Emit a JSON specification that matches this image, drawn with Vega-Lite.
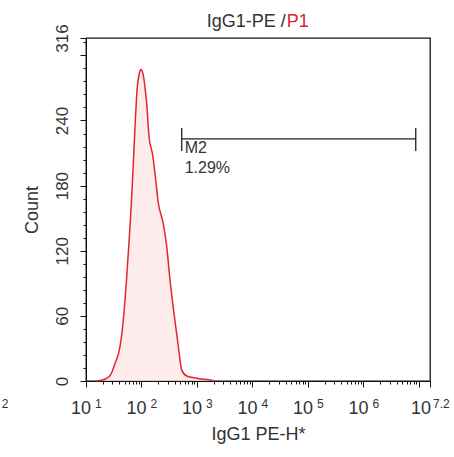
{
  "$schema": "https://vega.github.io/schema/vega-lite/v6.json",
  "autosize": "none",
  "width": 344,
  "height": 343,
  "padding": {"left": 86, "top": 38, "right": 24, "bottom": 76},
  "background": "white",
  "config": {
    "font": "Liberation Sans",
    "view": {"stroke": "#111111", "strokeWidth": 1.3},
    "axis": {"grid": false, "domainColor": "#111111", "tickColor": "#111111", "labelColor": "#333333", "titleColor": "#333333", "titleFontWeight": "normal", "labelOverlap": false}
  },
  "datasets": {
    "hist": [
      {"x": 15.6, "count": 0},
      {"x": 23.6, "count": 2.5},
      {"x": 28, "count": 6},
      {"x": 33.3, "count": 16},
      {"x": 41, "count": 31.6},
      {"x": 47, "count": 56},
      {"x": 54.2, "count": 96},
      {"x": 62.1, "count": 142},
      {"x": 69.5, "count": 188},
      {"x": 76.4, "count": 234},
      {"x": 84.1, "count": 271},
      {"x": 91.4, "count": 283.5},
      {"x": 98, "count": 287},
      {"x": 104, "count": 285},
      {"x": 111, "count": 278},
      {"x": 117, "count": 268},
      {"x": 124, "count": 256},
      {"x": 136.7, "count": 225},
      {"x": 159.3, "count": 208},
      {"x": 175.3, "count": 191},
      {"x": 201, "count": 164},
      {"x": 247, "count": 145},
      {"x": 285, "count": 124},
      {"x": 327, "count": 93},
      {"x": 386, "count": 62},
      {"x": 461, "count": 32},
      {"x": 531, "count": 10},
      {"x": 653, "count": 4.6},
      {"x": 989, "count": 2.5},
      {"x": 1945, "count": 0.5},
      {"x": 2100, "count": 0}
    ],
    "marker": [{"gate": "M2", "pct": "1.29%", "start": 531, "end": 8770000, "level": 223}],
    "caps": [{"at": 531}, {"at": 8770000}],
    "xlabels": [
      {"v": 10, "base": "10", "exp": "1"},
      {"v": 100, "base": "10", "exp": "2"},
      {"v": 1000, "base": "10", "exp": "3"},
      {"v": 10000, "base": "10", "exp": "4"},
      {"v": 100000, "base": "10", "exp": "5"},
      {"v": 1000000, "base": "10", "exp": "6"}
    ],
    "xlabelLast": [{"v": 15848932, "base": "10", "exp": "7.2"}],
    "stray": [{"v": 0.347, "text": "2"}],
    "heading": [{"sample": "IgG1-PE /", "gate": "P1", "at": 40000}]
  },
  "layer": [
    {
      "data": {"name": "hist"},
      "mark": {"type": "area", "interpolate": "monotone", "color": "#fde4e4", "line": {"color": "#e3262d", "strokeWidth": 1.5}},
      "encoding": {
        "x": {"field": "x", "type": "quantitative",
          "scale": {"type": "log", "domain": [10, 15848932], "nice": false},
          "axis": {"orient": "bottom", "values": [10, 100, 1000, 10000, 100000, 1000000, 10000000, 15848932], "labels": false, "tickSize": 6, "title": "IgG1 PE-H*", "titleFontSize": 18, "titlePadding": 38}},
        "y": {"field": "count", "type": "quantitative",
          "scale": {"domain": [0, 316], "nice": false, "zero": false},
          "axis": {"orient": "left", "values": [0, 60, 120, 180, 240, 300, 316], "labelExpr": "datum.value == 300 ? '' : datum.label", "labelAngle": 270, "labelAlign": "center", "labelBaseline": "alphabetic", "labelPadding": 13, "labelFontSize": 17, "tickSize": 6, "title": "Count", "titleFontSize": 18, "titlePadding": 12}}
      }
    },
    {
      "data": {"name": "marker"},
      "mark": {"type": "rule", "color": "#222222", "strokeWidth": 1.3},
      "encoding": {
        "x": {"field": "start", "type": "quantitative",
          "scale": {"type": "log", "domain": [10, 15848932], "nice": false},
          "axis": {"orient": "bottom", "values": [20, 30, 40, 50, 60, 70, 80, 90, 200, 300, 400, 500, 600, 700, 800, 900, 2000, 3000, 4000, 5000, 6000, 7000, 8000, 9000, 20000, 30000, 40000, 50000, 60000, 70000, 80000, 90000, 200000, 300000, 400000, 500000, 600000, 700000, 800000, 900000, 2000000, 3000000, 4000000, 5000000, 6000000, 7000000, 8000000, 9000000], "labels": false, "tickSize": 3, "domain": false, "title": null}},
        "x2": {"field": "end"},
        "y": {"field": "level", "type": "quantitative",
          "scale": {"domain": [0, 316], "nice": false, "zero": false},
          "axis": {"orient": "left", "values": [12, 24, 36, 48, 72, 84, 96, 108, 132, 144, 156, 168, 192, 204, 216, 228, 252, 264, 276, 288, 312], "labels": false, "tickSize": 3, "domain": false, "title": null}}
      }
    },
    {
      "data": {"name": "caps"},
      "mark": {"type": "rule", "color": "#222222", "strokeWidth": 1.3},
      "encoding": {
        "x": {"field": "at", "type": "quantitative", "scale": {"type": "log", "domain": [10, 15848932], "nice": false}, "axis": null},
        "y": {"datum": 212, "type": "quantitative", "scale": {"domain": [0, 316], "nice": false, "zero": false}, "axis": null},
        "y2": {"datum": 233}
      }
    },
    {
      "data": {"name": "marker"},
      "mark": {"type": "text", "align": "left", "baseline": "top", "dx": 3, "dy": 1, "fontSize": 16, "color": "#333333"},
      "encoding": {
        "x": {"field": "start", "type": "quantitative", "scale": {"type": "log", "domain": [10, 15848932], "nice": false}, "axis": null},
        "y": {"field": "level", "type": "quantitative", "scale": {"domain": [0, 316], "nice": false, "zero": false}, "axis": null},
        "text": {"field": "gate"}
      }
    },
    {
      "data": {"name": "marker"},
      "mark": {"type": "text", "align": "left", "baseline": "top", "dx": 3, "dy": 21, "fontSize": 16, "color": "#333333"},
      "encoding": {
        "x": {"field": "start", "type": "quantitative", "scale": {"type": "log", "domain": [10, 15848932], "nice": false}, "axis": null},
        "y": {"field": "level", "type": "quantitative", "scale": {"domain": [0, 316], "nice": false, "zero": false}, "axis": null},
        "text": {"field": "pct"}
      }
    },
    {
      "data": {"name": "xlabels"},
      "mark": {"type": "text", "align": "right", "baseline": "alphabetic", "dx": 5, "dy": 33, "fontSize": 18, "color": "#333333"},
      "encoding": {
        "x": {"field": "v", "type": "quantitative", "scale": {"type": "log", "domain": [10, 15848932], "nice": false}, "axis": null},
        "y": {"datum": 0, "type": "quantitative", "scale": {"domain": [0, 316], "nice": false, "zero": false}, "axis": null},
        "text": {"field": "base"}
      }
    },
    {
      "data": {"name": "xlabels"},
      "mark": {"type": "text", "align": "left", "baseline": "alphabetic", "dx": 9, "dy": 27, "fontSize": 12, "color": "#333333"},
      "encoding": {
        "x": {"field": "v", "type": "quantitative", "scale": {"type": "log", "domain": [10, 15848932], "nice": false}, "axis": null},
        "y": {"datum": 0, "type": "quantitative", "scale": {"domain": [0, 316], "nice": false, "zero": false}, "axis": null},
        "text": {"field": "exp"}
      }
    },
    {
      "data": {"name": "xlabelLast"},
      "mark": {"type": "text", "align": "right", "baseline": "alphabetic", "dx": 1, "dy": 33, "fontSize": 18, "color": "#333333"},
      "encoding": {
        "x": {"field": "v", "type": "quantitative", "scale": {"type": "log", "domain": [10, 15848932], "nice": false}, "axis": null},
        "y": {"datum": 0, "type": "quantitative", "scale": {"domain": [0, 316], "nice": false, "zero": false}, "axis": null},
        "text": {"field": "base"}
      }
    },
    {
      "data": {"name": "xlabelLast"},
      "mark": {"type": "text", "align": "left", "baseline": "alphabetic", "dx": 3, "dy": 27, "fontSize": 12, "color": "#333333"},
      "encoding": {
        "x": {"field": "v", "type": "quantitative", "scale": {"type": "log", "domain": [10, 15848932], "nice": false}, "axis": null},
        "y": {"datum": 0, "type": "quantitative", "scale": {"domain": [0, 316], "nice": false, "zero": false}, "axis": null},
        "text": {"field": "exp"}
      }
    },
    {
      "data": {"name": "stray"},
      "mark": {"type": "text", "align": "center", "baseline": "alphabetic", "dy": 27, "fontSize": 12, "color": "#333333"},
      "encoding": {
        "x": {"field": "v", "type": "quantitative", "scale": {"type": "log", "domain": [10, 15848932], "nice": false}, "axis": null},
        "y": {"datum": 0, "type": "quantitative", "scale": {"domain": [0, 316], "nice": false, "zero": false}, "axis": null},
        "text": {"field": "text"}
      }
    },
    {
      "data": {"name": "heading"},
      "mark": {"type": "text", "align": "right", "baseline": "alphabetic", "dy": -11, "fontSize": 18, "color": "#333333"},
      "encoding": {
        "x": {"field": "at", "type": "quantitative", "scale": {"type": "log", "domain": [10, 15848932], "nice": false}, "axis": null},
        "y": {"datum": 316, "type": "quantitative", "scale": {"domain": [0, 316], "nice": false, "zero": false}, "axis": null},
        "text": {"field": "sample"}
      }
    },
    {
      "data": {"name": "heading"},
      "mark": {"type": "text", "align": "left", "baseline": "alphabetic", "dx": 1, "dy": -11, "fontSize": 18, "color": "#d9262c"},
      "encoding": {
        "x": {"field": "at", "type": "quantitative", "scale": {"type": "log", "domain": [10, 15848932], "nice": false}, "axis": null},
        "y": {"datum": 316, "type": "quantitative", "scale": {"domain": [0, 316], "nice": false, "zero": false}, "axis": null},
        "text": {"field": "gate"}
      }
    }
  ],
  "resolve": {"axis": {"x": "independent", "y": "independent"}}
}
